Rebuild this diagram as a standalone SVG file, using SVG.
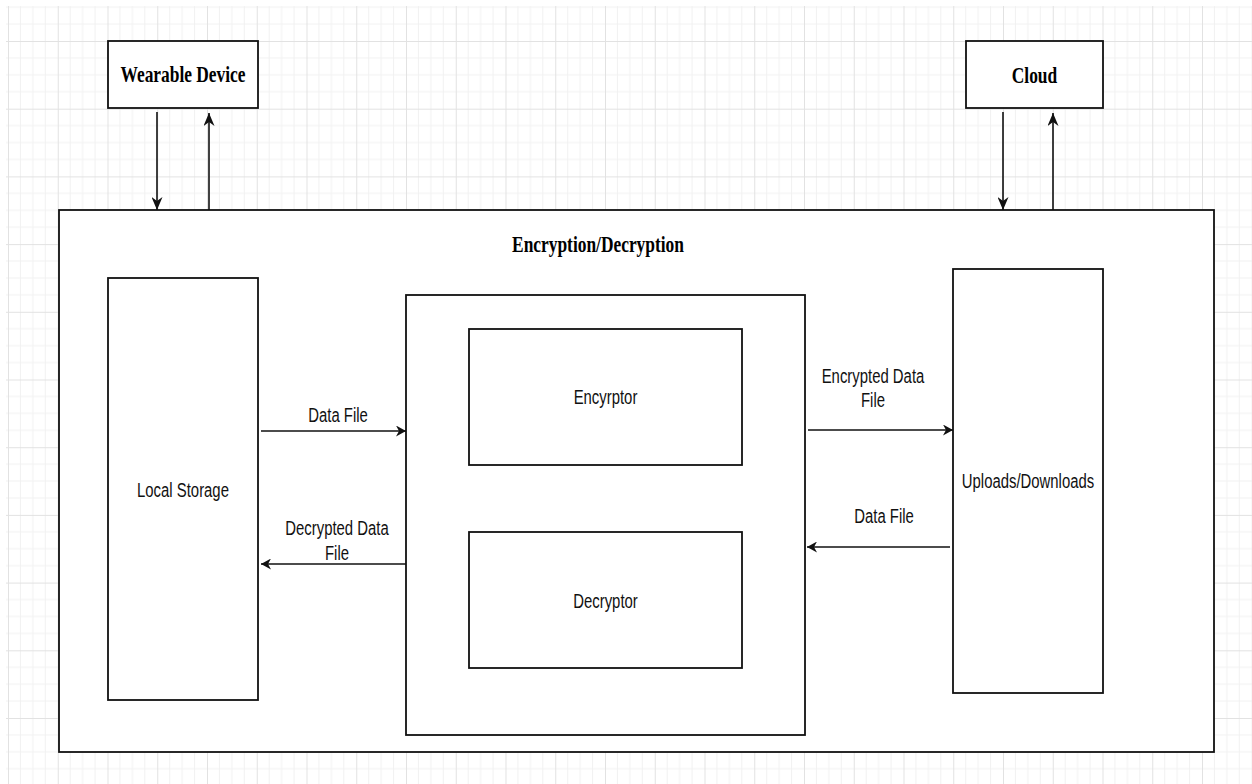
<svg xmlns="http://www.w3.org/2000/svg" width="1252" height="784" viewBox="0 0 1252 784">
<style>
.box{fill:#fff;stroke:#111;stroke-width:1.8}
.ln{fill:none;stroke:#111;stroke-width:1.6}
.tb{font-family:"Liberation Serif","Times New Roman",serif;font-weight:bold;font-size:17.4px;fill:#000;text-anchor:middle}
.ts{font-family:"Liberation Sans",Arial,sans-serif;font-size:14.9px;fill:#111;text-anchor:middle}
</style>
<defs>
<pattern id="grid" patternUnits="userSpaceOnUse" x="8" y="41" width="49.75" height="67.7">
<g stroke="#f1f1f1" stroke-width="1">
<line x1="12.44" y1="0" x2="12.44" y2="67.7"/>
<line x1="24.875" y1="0" x2="24.875" y2="67.7"/>
<line x1="37.31" y1="0" x2="37.31" y2="67.7"/>
<line x1="0" y1="16.93" x2="49.75" y2="16.93"/>
<line x1="0" y1="33.85" x2="49.75" y2="33.85"/>
<line x1="0" y1="50.78" x2="49.75" y2="50.78"/>
</g>
<g stroke="#e2e2e2" stroke-width="1">
<line x1="0.5" y1="0" x2="0.5" y2="67.7"/>
<line x1="0" y1="0.5" x2="49.75" y2="0.5"/>
</g>
</pattern>
<marker id="av" markerUnits="userSpaceOnUse" viewBox="0 0 10 10" markerWidth="13" markerHeight="11" refX="10" refY="5" orient="auto" preserveAspectRatio="none">
<path d="M0,0 L10,5 L0,10 L3,5 z" fill="#111"/>
</marker>
<marker id="ah" markerUnits="userSpaceOnUse" viewBox="0 0 10 10" markerWidth="10" markerHeight="11" refX="10" refY="5" orient="auto" preserveAspectRatio="none">
<path d="M0,0 L10,5 L0,10 L3,5 z" fill="#111"/>
</marker>
</defs>
<rect x="0" y="0" width="1252" height="784" fill="#fff"/>
<rect x="6" y="6" width="1246" height="778" fill="url(#grid)"/>

<g id="wearable">
<rect class="box" x="108" y="41" width="150" height="67"/>
<g transform="translate(183,82) scale(1,1.36)"><text class="tb" x="0" y="0">Wearable Device</text></g>
</g>
<g id="cloud">
<rect class="box" x="966" y="41" width="137" height="67"/>
<g transform="translate(1034.5,82.5) scale(1,1.36)"><text class="tb" x="0" y="0">Cloud</text></g>
</g>
<g id="encdec">
<rect class="box" x="59" y="210" width="1155" height="542"/>
<g transform="translate(598,252) scale(1,1.36)"><text class="tb" x="0" y="0">Encryption/Decryption</text></g>
</g>
<g id="local-storage">
<rect class="box" x="108" y="278" width="150" height="422"/>
<g transform="translate(183,497) scale(1,1.35)"><text class="ts" x="0" y="0">Local Storage</text></g>
</g>
<g id="crypto">
<rect class="box" x="406" y="295" width="399" height="440"/>
</g>
<g id="encryptor">
<rect class="box" x="469" y="329" width="273" height="136"/>
<g transform="translate(605.5,404) scale(1,1.35)"><text class="ts" x="0" y="0">Encyrptor</text></g>
</g>
<g id="decryptor">
<rect class="box" x="469" y="532" width="273" height="136"/>
<g transform="translate(605.5,608) scale(1,1.35)"><text class="ts" x="0" y="0">Decryptor</text></g>
</g>
<g id="uploads">
<rect class="box" x="953" y="269" width="150" height="424"/>
<g transform="translate(1028,488) scale(1,1.35)"><text class="ts" x="0" y="0">Uploads/Downloads</text></g>
</g>

<g id="connectors">
<line class="ln" x1="157" y1="112" x2="157" y2="210" marker-end="url(#av)"/>
<line class="ln" x1="209" y1="210" x2="209" y2="113" marker-end="url(#av)"/>
<line class="ln" x1="1003" y1="112" x2="1003" y2="210" marker-end="url(#av)"/>
<line class="ln" x1="1053" y1="210" x2="1053" y2="113" marker-end="url(#av)"/>
<line class="ln" x1="261" y1="431" x2="406" y2="431" marker-end="url(#ah)"/>
<line class="ln" x1="406" y1="564" x2="261" y2="564" marker-end="url(#ah)"/>
<line class="ln" x1="808" y1="430" x2="953" y2="430" marker-end="url(#ah)"/>
<line class="ln" x1="950" y1="547" x2="807" y2="547" marker-end="url(#ah)"/>
<g transform="translate(338,422) scale(1,1.35)"><text class="ts" x="0" y="0">Data File</text></g>
<g transform="translate(337,535) scale(1,1.35)"><text class="ts" x="0" y="0">Decrypted Data</text></g>
<g transform="translate(337,560) scale(1,1.35)"><text class="ts" x="0" y="0">File</text></g>
<g transform="translate(873,382.5) scale(1,1.35)"><text class="ts" x="0" y="0">Encrypted Data</text></g>
<g transform="translate(873,407) scale(1,1.35)"><text class="ts" x="0" y="0">File</text></g>
<g transform="translate(884,523) scale(1,1.35)"><text class="ts" x="0" y="0">Data File</text></g>
</g>
</svg>
